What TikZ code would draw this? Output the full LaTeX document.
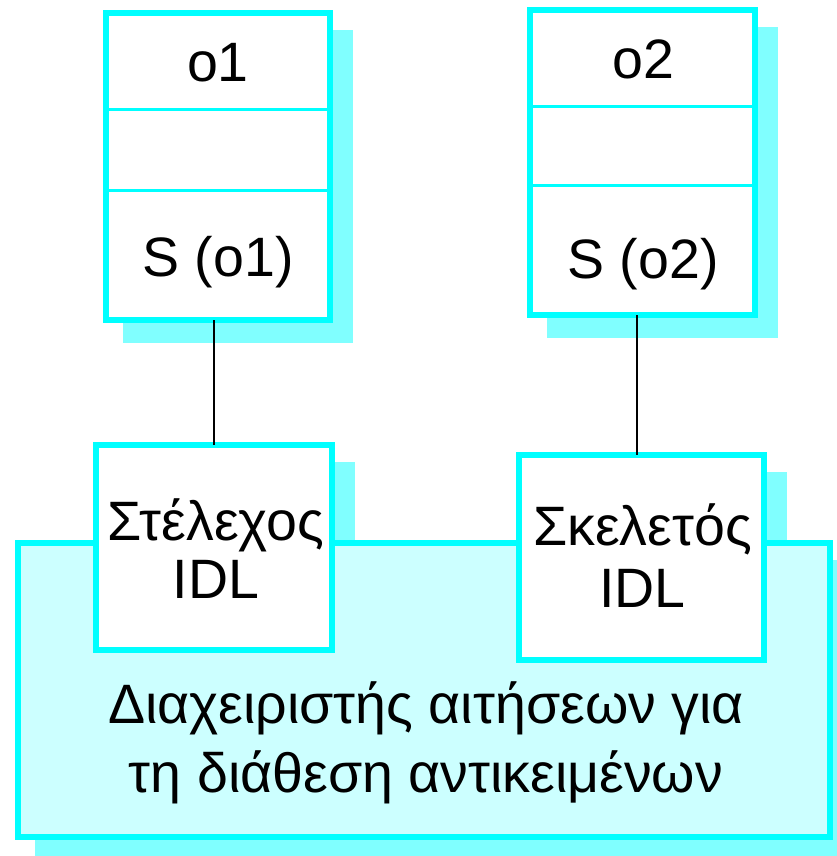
\documentclass[tikz,border=0pt]{standalone}
\usepackage{fontspec}
\setmainfont{Liberation Sans}
\usetikzlibrary{calc}
\definecolor{cyanb}{HTML}{00FFFF}
\definecolor{shad}{HTML}{80FFFF}
\definecolor{pale}{HTML}{CCFFFF}
\pgfdeclarelayer{bg}
\pgfsetlayers{bg,main}
\begin{document}
\begin{tikzpicture}[x=1pt,y=-1pt,
  box/.style={draw=cyanb, line width=6.5pt, fill=white, inner sep=0pt, outer sep=0pt},
  divider/.style={draw=cyanb, line width=3pt},
  shadowfill/.style={fill=shad},
  lbl/.style={anchor=base, inner sep=0pt, font=\fontsize{55.5}{64}\selectfont},
  conn/.style={draw=black, line width=2.2pt}]
\useasboundingbox (0,0) rectangle (836,856);
% boxes
\node[box, fill=pale, minimum width=812pt, minimum height=294pt] (big) at (424,690) {};
\node[box, minimum width=224pt, minimum height=307pt] (o1) at (218,166.5) {};
\node[box, minimum width=225pt, minimum height=305pt] (o2) at (642.5,162.5) {};
\node[box, minimum width=236pt, minimum height=205pt] (stub) at (214,547.5) {};
\node[box, minimum width=245pt, minimum height=205pt] (skel) at (641.5,557.5) {};
% shadows
\begin{pgfonlayer}{bg}
  \foreach \n in {o1,o2,stub,skel,big}{
    \fill[shadowfill] ($(\n.north west)+(16.75,16.75)$) rectangle ($(\n.south east)+(23.25,23.25)$);
  }
\end{pgfonlayer}
% dividers
\draw[divider] (o1.west |- 0,110) -- (o1.east |- 0,110);
\draw[divider] (o1.west |- 0,190) -- (o1.east |- 0,190);
\draw[divider] (o2.west |- 0,107) -- (o2.east |- 0,107);
\draw[divider] (o2.west |- 0,185) -- (o2.east |- 0,185);
% labels
\node[lbl] (t1) at (218,82) {o1};
\node[lbl] (s1) at (218,276) {S (o1)};
\node[lbl] (t2) at (643,79) {o2};
\node[lbl] (s2) at (643,278) {S (o2)};
\node[lbl] (st1) at (216,540) {Στέλεχος};
\node[lbl] (st2) at (216,598) {IDL};
\node[lbl] (sk1) at (642.5,545) {Σκελετός};
\node[lbl] (sk2) at (642.5,607) {IDL};
\node[lbl] (b1) at (426,723) {Διαχειριστής αιτήσεων για};
\node[lbl] (b2) at (426,792) {τη διάθεση αντικειμένων};
% connectors
\coordinate (c1a) at (stub.north |- o1.south);
\coordinate (c2a) at ($(o2.south)+(-5.5,0)$);
\coordinate (c2b) at ($(skel.north)+(-4.5,0)$);
\draw[conn] (c1a) -- (stub.north);
\draw[conn] (c2a) -- (c2b);
\end{tikzpicture}
\end{document}
